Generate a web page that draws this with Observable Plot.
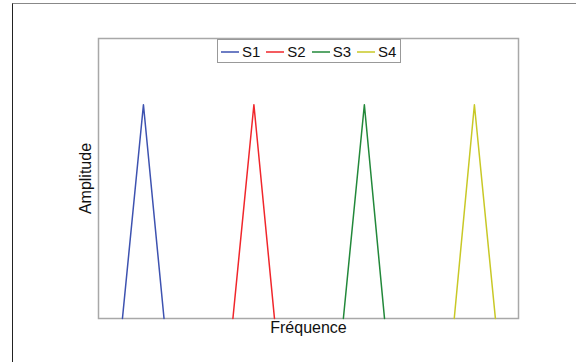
<!DOCTYPE html>
<html>
<head>
<meta charset="utf-8">
<script src="https://cdn.jsdelivr.net/npm/d3@7"></script>
<script src="https://cdn.jsdelivr.net/npm/@observablehq/plot@0.6"></script>
<style>
  html, body { margin: 0; padding: 0; background: #fff; overflow: hidden; }
  body { width: 576px; height: 362px; position: relative; font-family: "Liberation Sans", Arial, Helvetica, sans-serif; }
  #outer { position: absolute; left: 12px; top: 3px; width: 620px; height: 420px;
           border-left: 1.5px solid #222; border-top: 1.5px solid #888; box-sizing: border-box; }
  #chart { position: absolute; left: 0; top: 0; }
  #legend { position: absolute; left: 217px; top: 39px; height: 24px; width: 184px; box-sizing: border-box;
            border: 1px solid #999; background: #fff; display: flex; align-items: center;
            padding-left: 3px; padding-top: 1px; font-size: 15px; color: #111; }
  #legend .item { display: flex; align-items: center; margin-right: 6px; }
  #legend svg { margin-right: 3px; }
</style>
</head>
<body>
<div id="outer"></div>
<div id="chart"></div>
<div id="legend"></div>
<script>
// ---- data ----
const series = ["S1", "S2", "S3", "S4"];
const colors = ["#3d52b0", "#f0262b", "#22883a", "#c8c826"];
const amplitude = [0, 1, 0];
const freqS1 = [5.7, 10.7, 15.6];
const freqS2 = [32.0, 37.0, 41.9];
const freqS3 = [58.3, 63.3, 68.1];
const freqS4 = [84.7, 89.5, 94.5];
const xLabel = "Fréquence";
const yLabel = "Amplitude";

const freqs = [freqS1, freqS2, freqS3, freqS4];
const rows = [];
series.forEach((s, i) => {
  freqs[i].forEach((f, j) => rows.push({ s, f, a: amplitude[j] }));
});

const chart = Plot.plot({
  width: 576,
  height: 362,
  marginLeft: 98,
  marginRight: 58,
  marginTop: 38,
  marginBottom: 44,
  style: { background: "transparent", fontFamily: "Liberation Sans, Arial, Helvetica, sans-serif" },
  x: { domain: [0, 100], axis: null },
  y: { domain: [0, 1.31], axis: null },
  color: { domain: series, range: colors },
  marks: [
    Plot.frame({ stroke: "#a8a8a8", strokeWidth: 1.5 }),
    Plot.line(rows, { x: "f", y: "a", z: "s", stroke: "s", strokeWidth: 1.5 }),
    Plot.text([xLabel], { frameAnchor: "bottom", lineAnchor: "top", dy: 3, fontSize: 16, fill: "#111" }),
    Plot.text([yLabel], { frameAnchor: "left", textAnchor: "middle", lineAnchor: "bottom", rotate: -90, dx: -8, fontSize: 16, fill: "#111" })
  ]
});
document.getElementById("chart").append(chart);

const legend = document.getElementById("legend");
series.forEach((s, i) => {
  const item = document.createElement("div");
  item.className = "item";
  item.innerHTML = `<svg width="18" height="10"><line x1="0" x2="18" y1="5" y2="5" stroke="${colors[i]}" stroke-width="1.5"/></svg><span>${s}</span>`;
  legend.append(item);
});
</script>
</body>
</html>
